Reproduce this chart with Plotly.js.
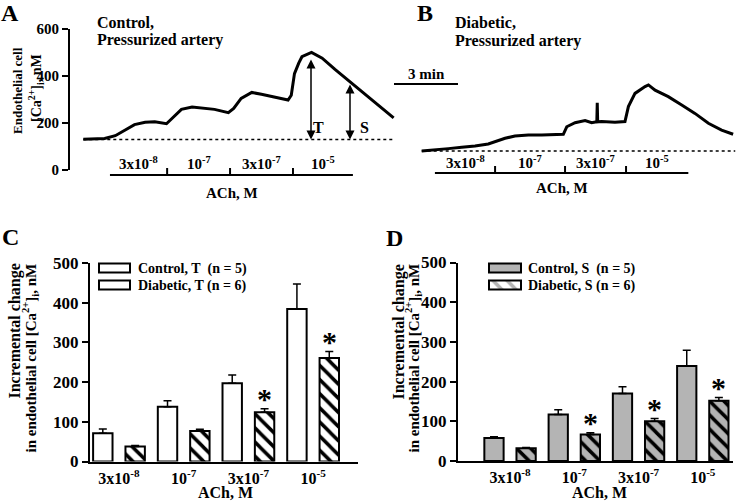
<!DOCTYPE html>
<html><head><meta charset="utf-8">
<script src="https://cdn.plot.ly/plotly-3.0.1.min.js"></script>
<style>body{margin:0;background:#fff}#chart{width:750px;height:503px}</style>
</head><body><div id="chart"></div>
<script>
// ---------- DATA ----------
// Panel A: control pressurized artery, endothelial [Ca2+]i trace (time in min, nM)
const timeA = [0, 1.0, 1.5, 1.95, 2.4, 2.9, 3.35, 3.9, 4.15, 4.6, 5.1, 5.55, 6.15, 6.8, 7.05, 7.4, 7.9, 8.35, 9.0, 9.6, 9.75, 9.9, 10.1, 10.25, 10.7, 11.2, 11.8, 12.5, 13.2, 13.8, 14.55];
const caA   = [131, 134, 146, 170, 193, 203, 205, 197, 220, 258, 268, 265, 258, 244, 262, 305, 330, 322, 310, 298, 318, 410, 455, 482, 500, 476, 428, 376, 326, 278, 222];
// Panel B: diabetic pressurized artery trace
const timeB = [0, 0.62, 1.25, 1.88, 2.5, 3.12, 3.44, 3.91, 4.37, 5.0, 5.63, 6.25, 6.64, 6.8, 7.19, 7.66, 7.97, 8.21, 8.23, 8.25, 8.44, 9.06, 9.53, 9.69, 10.0, 10.47, 10.63, 10.94, 11.56, 12.19, 12.81, 13.44, 14.06, 14.6];
const caB   = [81, 85, 91, 97, 102, 111, 121, 135, 145, 149, 149, 149, 152, 184, 201, 210, 201, 205, 286, 205, 206, 203, 206, 270, 326, 355, 362, 340, 312, 277, 241, 199, 170, 152];
const baselineA = 130, baselineB = 81;
// ACh application times (min): start, dose changes, end
const drugA = [1.25, 3.93, 6.88, 9.83, 12.64];
const drugB = [0.62, 3.44, 6.72, 9.58, 12.5];
const doseLabels = ['3x10<sup>-8</sup>', '10<sup>-7</sup>', '3x10<sup>-7</sup>', '10<sup>-5</sup>'];
// Panel C: transient (T) increment, nM
const ctlT = [71, 138, 197, 384], ctlTErr = [11, 15, 21, 63];
const diaT = [38, 77, 124, 261], diaTErr = [2, 4, 9, 16];
const sigT = [false, false, true, true];
// Panel D: sustained (S) increment, nM
const ctlS = [58, 117, 170, 239], ctlSErr = [3, 12, 17, 40];
const diaS = [32, 67, 100, 152], diaSErr = [2, 4, 7, 8];
const sigS = [false, true, true, true];
const legendC = ['Control, T&nbsp; (n = 5)', 'Diabetic, T (n = 6)'];
const legendD = ['Control, S&nbsp; (n = 5)', 'Diabetic, S (n = 6)'];

// ---------- LAYOUT HELPERS ----------
const W = 750, H = 503;
const X = p => p / W, Y = p => 1 - p / H;
const A_X0 = 83.3, B_X0 = 421.7, PPM = 21.33;
const FAM = 'Liberation Serif, Times New Roman, serif';
const f = (s) => ({family: FAM, size: s, color: '#000', weight: 'bold'});
const GRAY = '#b4b4b4';
const HATCH = {shape: '\\', fgcolor: '#000', size: 10, solidity: 0.35};

const traces = [];
traces.push({x: timeA, y: caA, xaxis: 'x', yaxis: 'y', mode: 'lines', line: {color: '#000', width: 3}});
traces.push({x: timeB, y: caB, xaxis: 'x2', yaxis: 'y2', mode: 'lines', line: {color: '#000', width: 3}});
function errY(arr) { return {type: 'data', symmetric: false, array: arr, arrayminus: arr.map(() => 0), color: '#000', thickness: 1.5, width: 4}; }
traces.push({type: 'bar', x: doseLabels, y: ctlT, xaxis: 'x3', yaxis: 'y3', marker: {color: '#fff', line: {color: '#000', width: 2}}, error_y: errY(ctlTErr)});
traces.push({type: 'bar', x: doseLabels, y: diaT, xaxis: 'x3', yaxis: 'y3', marker: {color: '#fff', pattern: Object.assign({bgcolor: '#fff'}, HATCH), line: {color: '#000', width: 2}}, error_y: errY(diaTErr)});
traces.push({type: 'bar', x: doseLabels, y: ctlS, xaxis: 'x4', yaxis: 'y4', marker: {color: GRAY, line: {color: '#000', width: 2}}, error_y: errY(ctlSErr)});
traces.push({type: 'bar', x: doseLabels, y: diaS, xaxis: 'x4', yaxis: 'y4', marker: {color: GRAY, pattern: Object.assign({bgcolor: GRAY}, HATCH), line: {color: '#000', width: 2}}, error_y: errY(diaSErr)});
// legend swatches
traces.push({type: 'bar', orientation: 'h', x: [1, 1], y: [1, 0], width: 0.53, xaxis: 'x5', yaxis: 'y5',
  marker: {color: ['#fff', '#fff'], pattern: {shape: ['', '\\'], fgcolor: '#000', bgcolor: '#fff', size: 10, solidity: 0.35}, line: {color: '#000', width: 2}}});
traces.push({type: 'bar', orientation: 'h', x: [1, 1], y: [1, 0], width: 0.53, xaxis: 'x6', yaxis: 'y6',
  marker: {color: [GRAY, GRAY], pattern: {shape: ['', '\\'], fgcolor: '#000', bgcolor: GRAY, size: 10, solidity: 0.35}, line: {color: '#000', width: 2}}});
traces.forEach(t => { t.showlegend = false; t.hoverinfo = 'skip'; });

const yAx = (dom, range, anchor, dtick, sz) => ({domain: dom, range: range, anchor: anchor, showline: true, linewidth: 2, linecolor: '#000',
  ticks: 'outside', ticklen: 6, tickwidth: 2, tickcolor: '#000', dtick: dtick, showgrid: false, zeroline: false, tickfont: f(sz), fixedrange: true});
const hidden = (dom, range, anchor) => ({domain: dom, range: range, anchor: anchor, visible: false, fixedrange: true});
const catX = (dom, range, anchor) => ({domain: dom, anchor: anchor, type: 'category', range: range, showline: true, linewidth: 2, linecolor: '#000',
  ticks: '', showgrid: false, tickfont: f(16), ticklabelstandoff: 1, fixedrange: true});

const layout = {
  width: W, height: H, margin: {l: 0, r: 0, t: 0, b: 0}, paper_bgcolor: '#fff', plot_bgcolor: 'rgba(0,0,0,0)',
  showlegend: false, barmode: 'group', bargap: 0, bargroupgap: 0.4,
  xaxis: hidden([X(70), X(400)], [(70 - A_X0) / PPM, (400 - A_X0) / PPM], 'y'),
  yaxis: yAx([Y(170), Y(29)], [0, 600], 'x', 200, 15),
  xaxis2: hidden([X(385), X(748)], [(385 - B_X0) / PPM, (748 - B_X0) / PPM], 'y2'),
  yaxis2: hidden([Y(170), Y(29)], [0, 600], 'x2'),
  xaxis3: catX([X(90), X(358)], [-0.448, 3.694], 'y3'),
  yaxis3: yAx([Y(461.5), Y(263)], [0, 500], 'x3', 100, 17),
  xaxis4: catX([X(458), X(733)], [-0.81, 3.47], 'y4'),
  yaxis4: yAx([Y(461), Y(262.5)], [0, 500], 'x4', 100, 17),
  xaxis5: hidden([X(96), X(133)], [-3 / 31, 1 + 3 / 31], 'y5'),
  yaxis5: hidden([Y(293.5), Y(259.5)], [-0.5, 1.5], 'x5'),
  xaxis6: hidden([X(486), X(524)], [-3 / 32, 1 + 3 / 32], 'y6'),
  yaxis6: hidden([Y(293.5), Y(259.5)], [-0.5, 1.5], 'x6'),
  shapes: [], annotations: []
};

const S = layout.shapes, A = layout.annotations;
// text helper with explicit anchors (paper coords in px)
function txt(t, px, py, size, opts) {
  A.push(Object.assign({xref: 'paper', yref: 'paper', x: X(px), y: Y(py), text: t, showarrow: false, font: f(size), xanchor: 'center', yanchor: 'middle'}, opts || {}));
}
// dotted baselines
S.push({type: 'line', xref: 'x', yref: 'y', x0: timeA[0], x1: timeA[timeA.length - 1] + 0.05, y0: baselineA, y1: baselineA, line: {color: '#000', width: 1.6, dash: 'dot'}});
S.push({type: 'line', xref: 'x2', yref: 'y2', x0: timeB[0], x1: timeB[timeB.length - 1] + 0.1, y0: baselineB, y1: baselineB, line: {color: '#000', width: 1.6, dash: 'dot'}});
// ACh application bars
function drugBar(xr, times, yBar, yTxt, yAch, achX) {
  S.push({type: 'line', xref: xr, yref: 'paper', x0: times[0], x1: times[times.length - 1], y0: Y(yBar), y1: Y(yBar), line: {color: '#000', width: 2}});
  for (let i = 1; i < times.length - 1; i++) {
    S.push({type: 'line', xref: xr, yref: 'paper', x0: times[i], x1: times[i], y0: Y(yBar), y1: Y(yBar - 7), line: {color: '#000', width: 2}});
  }
  for (let i = 0; i < doseLabels.length; i++) {
    A.push({xref: xr, yref: 'paper', x: (times[i] + times[i + 1]) / 2, y: Y(yTxt), text: doseLabels[i], showarrow: false, font: f(15), xanchor: 'center', yanchor: 'middle'});
  }
  txt('ACh, M', achX, yAch, 15);
}
drugBar('x', drugA, 175, 163, 193, 232);
drugBar('x2', drugB, 173, 162, 188, 562);
// 3 min scale bar
const sb0 = (394 - B_X0) / PPM;
S.push({type: 'line', xref: 'x2', yref: 'paper', x0: sb0, x1: sb0 + 3, y0: Y(84), y1: Y(84), line: {color: '#000', width: 2}});
A.push({xref: 'x2', yref: 'paper', x: sb0 + 1.5, y: Y(74), text: '3 min', showarrow: false, font: f(15), xanchor: 'center', yanchor: 'middle'});
// T and S arrows
const tT = (311 - A_X0) / PPM, tS = (350 - A_X0) / PPM;
A.push({xref: 'x', yref: 'y', axref: 'x', ayref: 'y', x: tT, y: baselineA, ax: tT, ay: 477, text: '', showarrow: true, arrowside: 'end+start', arrowhead: 2, arrowsize: 1.2, arrowwidth: 1.5, arrowcolor: '#000'});
A.push({xref: 'x', yref: 'y', axref: 'x', ayref: 'y', x: tS, y: baselineA, ax: tS, ay: 370, text: '', showarrow: true, arrowside: 'end+start', arrowhead: 2, arrowsize: 1.2, arrowwidth: 1.5, arrowcolor: '#000'});
txt('T', 318, 128, 16);
txt('S', 364, 128, 16);
// panel letters
txt('A', 10, 0, 24, {yanchor: 'top', yshift: 2}); txt('B', 425, 0, 24, {yanchor: 'top', yshift: 2});
txt('C', 10, 237, 24); txt('D', 395, 238, 24);
// panel headings
txt('Control,', 95, 22, 16, {xanchor: 'left'});
txt('Pressurized artery', 95, 40, 16, {xanchor: 'left'});
txt('Diabetic,', 453, 22, 16, {xanchor: 'left'});
txt('Pressurized artery', 453, 41, 16, {xanchor: 'left'});
// y titles
txt('Endothelial cell', 18, 91, 13, {textangle: -90});
txt('[Ca<sup>2+</sup>]<sub>i</sub>, nM', 36, 88, 14, {textangle: -90});
[[14, 30], [398, 413]].forEach(xs => {
  txt('Incremental change', xs[0], 262, 16, {textangle: -90, yanchor: 'top'});
  txt('in endothelial cell [Ca<sup>2+</sup>]<sub>i</sub>, nM', xs[1], 262, 15, {textangle: -90, yanchor: 'top'});
});
// x titles C, D
txt('ACh, M', 225, 503, 16, {yanchor: 'bottom'});
txt('ACh, M', 599, 503, 16, {yanchor: 'bottom'});
// legends text
[[legendC, 136], [legendD, 526]].forEach(l => {
  txt(l[0][0], l[1], 268.5, 14, {xanchor: 'left'});
  txt(l[0][1], l[1], 285.5, 14, {xanchor: 'left'});
});
// significance asterisks
function stars(sig, vals, errs, xr, yr) {
  sig.forEach((s, i) => { if (s) A.push({xref: xr, yref: yr, x: i + 0.25, y: vals[i] + errs[i], yshift: 10, text: '*', showarrow: false, font: f(30), xanchor: 'center', yanchor: 'middle'}); });
}
stars(sigT, diaT, diaTErr, 'x3', 'y3');
stars(sigS, diaS, diaSErr, 'x4', 'y4');

Plotly.newPlot('chart', traces, layout, {staticPlot: true, displayModeBar: false});
</script></body></html>
